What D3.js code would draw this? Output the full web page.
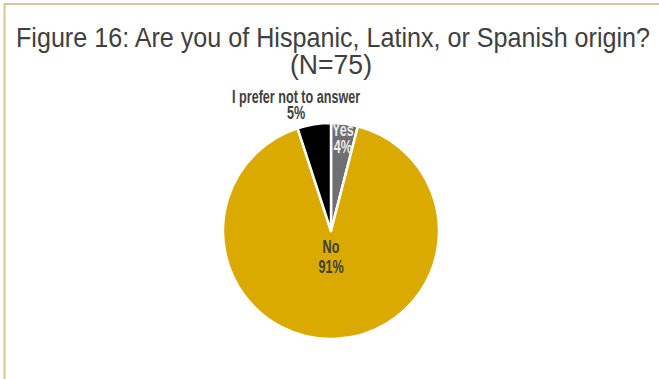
<!DOCTYPE html>
<html>
<head>
<meta charset="utf-8">
<script src="https://cdn.jsdelivr.net/npm/d3@7"></script>
<style>
  html, body { margin: 0; padding: 0; background: #fff; }
  svg { display: block; }
</style>
</head>
<body>
<svg id="chart" width="659" height="379"></svg>
<script>
// Survey responses (percent of N=75)
const categories = ["Yes", "No", "I prefer not to answer"];
const values = [4, 91, 5];
const sliceColors = ["#6e6e73", "#dbaa00", "#000000"];
const titleLines = ["Figure 16: Are you of Hispanic, Latinx, or Spanish origin?", "(N=75)"];

const W = 659, H = 379;
const svg = d3.select("#chart");
const fontFamily = "'Liberation Sans', Arial, sans-serif";

// squeeze a text element horizontally to mimic a condensed face
function condense(sel, factor) {
  sel.each(function () {
    const w = this.getComputedTextLength();
    d3.select(this).attr("textLength", w * factor).attr("lengthAdjust", "spacingAndGlyphs");
  });
}

// frame lines (top and left)
svg.append("line").attr("x1", 4).attr("x2", W).attr("y1", 4).attr("y2", 4)
  .attr("stroke", "#d9c49a").attr("stroke-width", 2);
svg.append("line").attr("x1", 4.5).attr("x2", 4.5).attr("y1", 3).attr("y2", H)
  .attr("stroke", "#d9c49a").attr("stroke-width", 2);

// title
const t1 = svg.append("text")
  .attr("x", 333).attr("y", 47)
  .attr("text-anchor", "middle")
  .attr("font-family", fontFamily)
  .attr("font-size", 27.5)
  .attr("fill", "#404040")
  .text(titleLines[0]);
const t1w = t1.node().getComputedTextLength();
t1.attr("textLength", 634).attr("lengthAdjust", "spacingAndGlyphs");
const titleFactor = 634 / t1w;
const t2 = svg.append("text")
  .attr("x", 331).attr("y", 74)
  .attr("text-anchor", "middle")
  .attr("font-family", fontFamily)
  .attr("font-size", 28)
  .attr("fill", "#404040")
  .text(titleLines[1]);
condense(t2, titleFactor * 1.04);

// pie
const cx = 331, cy = 231, r = 108;
const g = svg.append("g").attr("transform", `translate(${cx},${cy})`);
const data = categories.map((c, i) => ({ name: c, value: values[i], color: sliceColors[i] }));
const pie = d3.pie().sort(null).value(d => d.value);
const arcs = pie(data);
const arc = d3.arc().innerRadius(0).outerRadius(r);

g.selectAll("path").data(arcs).join("path")
  .attr("d", arc)
  .attr("fill", d => d.data.color)
  .attr("stroke", "#fff")
  .attr("stroke-width", 2.5)
  .attr("stroke-linejoin", "round");

// data labels: category name on the first line, percent below
const fmt = v => v + "%";
function addLabel(x, y, lines, color, gap) {
  lines.forEach((s, i) => {
    const t = svg.append("text")
      .attr("x", x).attr("y", y + i * gap)
      .attr("text-anchor", "middle")
      .attr("font-family", fontFamily)
      .attr("font-size", 18)
      .attr("font-weight", "bold")
      .attr("fill", color)
      .text(s);
    condense(t, 0.7);
  });
}

const pos = (a, k) => {
  const mid = (a.startAngle + a.endAngle) / 2;
  return [cx + Math.sin(mid) * r * k, cy - Math.cos(mid) * r * k];
};

// Yes: inside near the rim
{
  const [x, y] = pos(arcs[0], 0.95);
  addLabel(x - 1, y + 7, [data[0].name, fmt(data[0].value)], "#ececec", 17);
}
// No: just below the centre
{
  const [x, y] = pos(arcs[1], 0.0);
  addLabel(x, y + 22, [data[1].name, fmt(data[1].value)], "#404040", 20);
}
// Prefer not to answer: outside above the slice
{
  const [x, y] = pos(arcs[2], 1.0);
  addLabel(x - 18, y - 21, [data[2].name, fmt(data[2].value)], "#404040", 16);
}
</script>
</body>
</html>
